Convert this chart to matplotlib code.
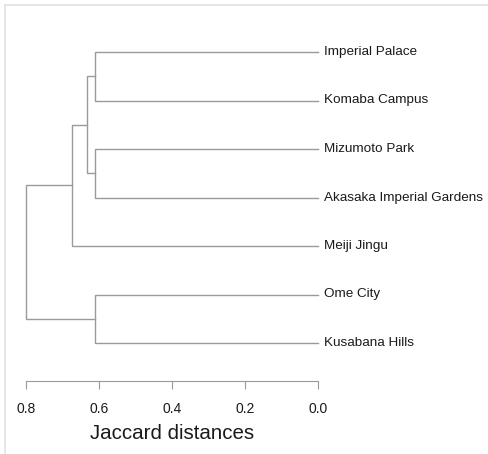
import matplotlib
matplotlib.use("Agg")
import matplotlib.pyplot as plt
from matplotlib.lines import Line2D

# leaves, top to bottom
labels = ["Imperial Palace", "Komaba Campus", "Mizumoto Park",
          "Akasaka Imperial Gardens", "Meiji Jingu", "Ome City", "Kusabana Hills"]

# merges like an hclust result: (left child, right child, height)
# ids 0..6 are leaves, new nodes get ids 7, 8, ...
merge_a = [0, 2, 5, 7, 10, 11]
merge_b = [1, 3, 6, 8, 4, 9]
heights = [0.611, 0.611, 0.611, 0.634, 0.675, 0.801]

ticks = [0.8, 0.6, 0.4, 0.2, 0.0]

plt.rcParams['font.family'] = ['Liberation Sans', 'DejaVu Sans']

W, H = 489, 454
fig = plt.figure(figsize=(W / 100, H / 100), dpi=100)

# axes placed in pixels: x 0.8 -> 26px, 0.0 -> 317.7px ; leaf 0 at y=52, axis line at y=381
left, right = 26 / W, 317.7 / W
top, bot = 52, 381
ax = fig.add_axes([left, 1 - bot / H, right - left, (bot - top) / H])
ax.set_xlim(0.8, 0.0)
step = (343 - 52) / 6
ax.set_ylim((bot - top) / step, 0)

col = "#9a9a9a"

# node positions
pos = {i: (0.0, float(i)) for i in range(len(labels))}
for k in range(len(heights)):
    a, b, h = merge_a[k], merge_b[k], heights[k]
    xa, ya = pos[a]
    xb, yb = pos[b]
    ax.plot([xa, h, h, xb], [ya, ya, yb, yb], color=col, lw=1.0,
            solid_joinstyle="miter", clip_on=False)
    pos[len(labels) + k] = (h, (ya + yb) / 2)

for i, lab in enumerate(labels):
    ax.annotate(lab, (0.0, i), xytext=(6.5, 0), textcoords="offset pixels",
                ha="left", va="center", fontsize=9.7, color="#1a1a1a")

for s in ["top", "left", "right"]:
    ax.spines[s].set_visible(False)
ax.spines["bottom"].set_bounds(0.0, 0.8)
ax.spines["bottom"].set_color(col)
ax.set_yticks([])
ax.set_xticks(ticks)
ax.set_xticklabels([f"{t:.1f}" for t in ticks])
ax.tick_params(axis="x", length=5.5, width=0.8, color=col, pad=9.5,
               labelsize=10, labelcolor="#1a1a1a")
ax.set_xlabel("Jaccard distances", fontsize=14.8, color="#1a1a1a", labelpad=6)

# light frame on top and left edges
fig.add_artist(Line2D([5 / W, 5 / W], [0, 1 - 4.5 / H], color="#e2e2e2", lw=1.2))
fig.add_artist(Line2D([5 / W, 1], [1 - 4.5 / H, 1 - 4.5 / H], color="#e2e2e2", lw=1.2))

fig.savefig("out.png", dpi=100)
